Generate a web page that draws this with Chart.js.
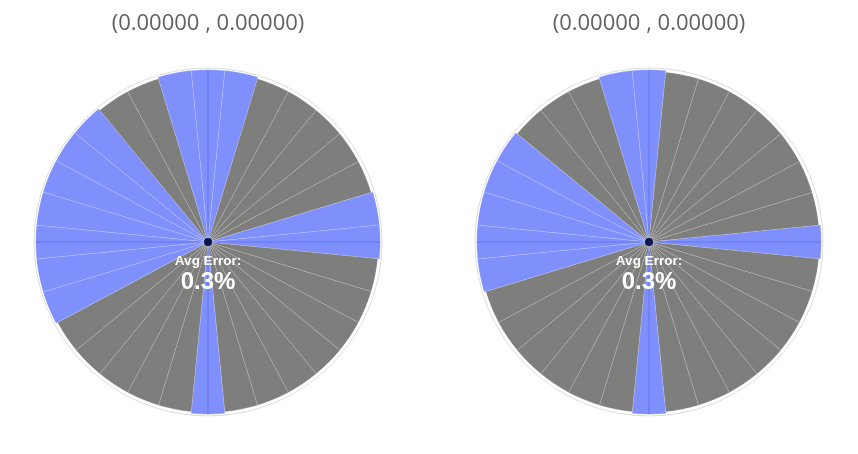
<!DOCTYPE html>
<html>
<head>
<meta charset="utf-8">
<script src="https://cdn.jsdelivr.net/npm/chart.js@4.4.0/dist/chart.umd.min.js"></script>
<style>
  html, body { margin: 0; padding: 0; background: #fff; }
  body { width: 858px; height: 454px; position: relative; overflow: hidden; }
  .box { position: absolute; top: 0; width: 416px; height: 454px; }
</style>
</head>
<body>
<div class="box" style="left:0px"><canvas id="chartLeft"></canvas></div>
<div class="box" style="left:441px"><canvas id="chartRight"></canvas></div>
<script>
// 32 equal sectors, clockwise from the top
const sectors = ["0", "11.25", "22.5", "33.75", "45", "56.25", "67.5", "78.75",
  "90", "101.25", "112.5", "123.75", "135", "146.25", "157.5", "168.75",
  "180", "191.25", "202.5", "213.75", "225", "236.25", "247.5", "258.75",
  "270", "281.25", "292.5", "303.75", "315", "326.25", "337.5", "348.75"];

const titles = ["(0.00000 , 0.00000)", "(0.00000 , 0.00000)"];
const avgErrors = ["0.3%", "0.3%"];

// 1 = blue sector, 0 = grey sector
const leftHits  = [1,1,0,0,0,0,0,1, 1,0,0,0,0,0,0,0, 1,0,0,0,0,0,1,1, 1,1,1,1,1,0,0,1];
const rightHits = [1,0,0,0,0,0,0,0, 1,0,0,0,0,0,0,0, 1,0,0,0,0,0,0,1, 1,1,1,1,0,0,0,1];

// sector radius (blue ones stick out a little)
const leftRadius  = [99,99,98,98,98,98,98,99, 99,98,98,98,98,98,98,98, 99,98,98,98,98,98,99,99, 99,99,99,99,99,98,98,99];
const rightRadius = [99,98,98,98,98,98,98,98, 99,98,98,98,98,98,98,98, 99,98,98,98,98,98,98,99, 99,99,99,99,98,98,98,99];

const BLUE = "#7f8ffc";
const GREY = "#7e7f7c";

const centerDecor = {
  id: "centerDecor",
  afterDatasetsDraw(chart, args, opts) {
    const r = chart.scales.r;
    const ctx = chart.ctx;
    const cx = r.xCenter, cy = r.yCenter;
    const len = r.getDistanceFromCenterForValue(99);
    ctx.save();
    ctx.strokeStyle = "rgba(40,60,200,0.3)";
    ctx.lineWidth = 1;
    ctx.beginPath();
    ctx.moveTo(cx - len, cy);
    ctx.lineTo(cx + len, cy);
    ctx.moveTo(cx, cy - len);
    ctx.lineTo(cx, cy + len);
    ctx.stroke();

    ctx.fillStyle = "#0b1850";
    ctx.beginPath();
    ctx.arc(cx, cy, 4, 0, Math.PI * 2);
    ctx.fill();

    ctx.fillStyle = "#ffffff";
    ctx.textAlign = "center";
    ctx.textBaseline = "middle";
    ctx.font = "bold 13.5px 'Liberation Sans', Arial, sans-serif";
    ctx.fillText("Avg Error:", cx, cy + 19);
    ctx.font = "bold 24px 'Liberation Sans', Arial, sans-serif";
    ctx.fillText(opts.text, cx, cy + 40);
    ctx.restore();
  }
};

function makeChart(id, hits, radius, title, avg) {
  return new Chart(document.getElementById(id), {
    type: "polarArea",
    data: {
      labels: sectors,
      datasets: [{
        data: radius,
        backgroundColor: hits.map(h => h ? BLUE : GREY),
        borderColor: "rgba(255,255,255,0.13)",
        borderWidth: 1
      }]
    },
    options: {
      responsive: true,
      maintainAspectRatio: false,
      animation: false,
      layout: { padding: { top: 0, bottom: 37, left: 0, right: 0 } },
      scales: {
        r: {
          min: 0,
          max: 100,
          startAngle: -5.625,
          ticks: { display: false, stepSize: 100 },
          grid: { color: "#dcdcdc", lineWidth: 1 },
          angleLines: { display: false },
          pointLabels: { display: false }
        }
      },
      plugins: {
        legend: { display: false },
        tooltip: { enabled: false },
        title: {
          display: true,
          text: title,
          color: "#616161",
          font: { family: "'Open Sans', sans-serif", size: 22, weight: "normal" },
          padding: { top: 11, bottom: 30 }
        },
        centerDecor: { text: avg }
      }
    },
    plugins: [centerDecor]
  });
}

makeChart("chartLeft", leftHits, leftRadius, titles[0], avgErrors[0]);
makeChart("chartRight", rightHits, rightRadius, titles[1], avgErrors[1]);
</script>
</body>
</html>
